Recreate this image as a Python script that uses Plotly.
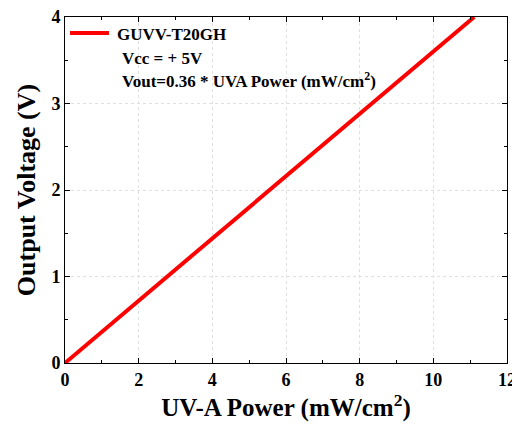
import plotly.graph_objects as go

power = [0.0, 2.0, 4.0, 5.15, 5.25, 8.0, 11.11]
voltage = [0.0, 0.72, 1.44, 1.84, 1.88, 2.88, 4.0]
series_name = "GUVV-T20GH"
note_lines = ["Vcc = + 5V", "Vout=0.36 * UVA Power (mW/cm<sup>2</sup>)"]

FONT = "Liberation Serif"
RED = "#ff0000"

fig = go.Figure()
fig.add_trace(go.Scatter(x=power, y=voltage, mode="lines", name=series_name,
                         line=dict(color=RED, width=4), showlegend=False))

axis_common = dict(
    showline=True, linecolor="black", linewidth=1, mirror="ticks",
    ticks="inside", ticklen=5, tickwidth=1, tickcolor="black",
    showgrid=True, gridcolor="#e0e0e0", griddash="dot", gridwidth=1,
    zeroline=False, automargin=False, ticklabeloverflow="allow",
    tickfont=dict(family=FONT, size=18, color="black", weight="bold"),
)
fig.update_xaxes(range=[0, 12], dtick=2, tick0=0,
                 minor=dict(dtick=1, ticks="inside", ticklen=3, tickcolor="black", showgrid=False),
                 title=dict(text="UV-A Power (mW/cm<sup>2</sup>)", standoff=4,
                            font=dict(family=FONT, size=25, color="black", weight="bold")),
                 **axis_common)
fig.update_yaxes(range=[0, 4], dtick=1, tick0=0,
                 minor=dict(dtick=0.5, ticks="inside", ticklen=3, tickcolor="black", showgrid=False),
                 title=dict(text="Output Voltage (V)", standoff=8,
                            font=dict(family=FONT, size=26, color="black", weight="bold")),
                 **axis_common)

# page body adds an 8px offset; figure sized to fill the remaining window
fig.update_layout(
    width=512, height=417,
    margin=dict(l=57, r=13, t=9, b=62),
    plot_bgcolor="white", paper_bgcolor="white",
    showlegend=False,
)
# legend sample line and label
fig.add_shape(type="line", xref="paper", yref="paper", x0=0.0113, x1=0.0995, y0=0.954, y1=0.954,
              line=dict(color=RED, width=4))
fig.add_annotation(xref="paper", yref="paper", x=0.113, y=0.948, xanchor="left", yanchor="middle",
                   text=series_name, showarrow=False,
                   font=dict(family=FONT, size=17, color="black", weight="bold"))
fig.add_annotation(xref="paper", yref="paper", x=0.124, y=0.8815, xanchor="left", yanchor="middle",
                   text=note_lines[0], showarrow=False,
                   font=dict(family=FONT, size=17, color="black", weight="bold"))
fig.add_annotation(xref="paper", yref="paper", x=0.124, y=0.818, xanchor="left", yanchor="middle",
                   text=note_lines[1], showarrow=False,
                   font=dict(family=FONT, size=17, color="black", weight="bold"))

fig.write_html("out.html")
